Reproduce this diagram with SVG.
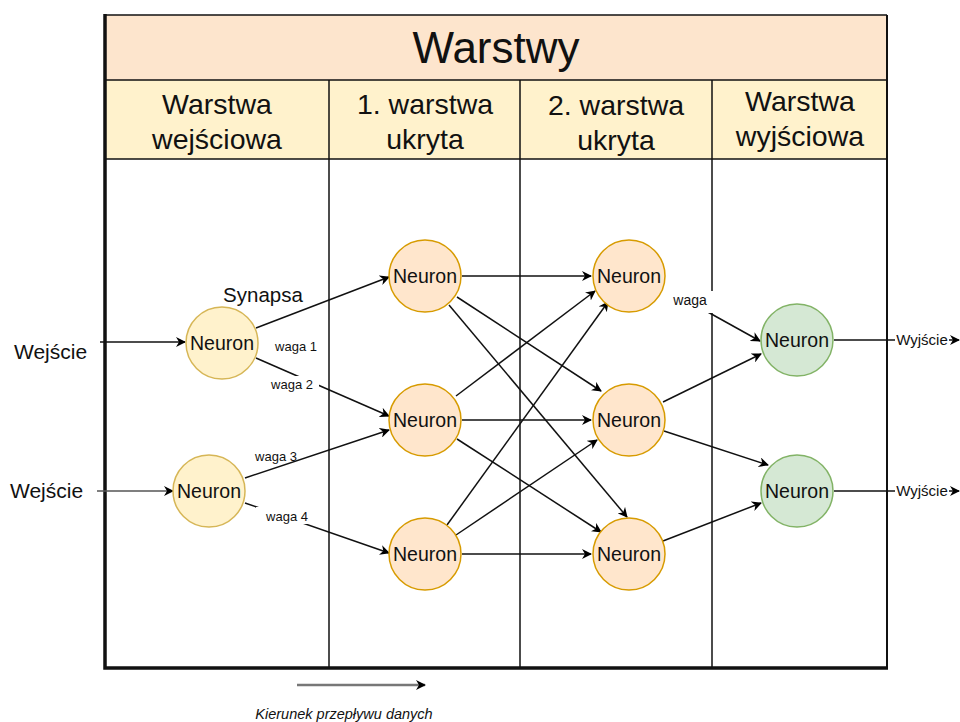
<svg xmlns="http://www.w3.org/2000/svg" width="960" height="722" viewBox="0 0 960 722">
<defs>
<marker id="arr" viewBox="0 0 10 10" refX="9" refY="5" markerWidth="10" markerHeight="10" markerUnits="userSpaceOnUse" orient="auto">
<path d="M0,0 L10,5 L0,10 L3,5 z" fill="#000"/>
</marker>
<style>
text{font-family:"Liberation Sans",Arial,sans-serif;fill:#111}
.title{font-size:44px;text-anchor:middle}
.hdr{font-size:28.5px;text-anchor:middle}
.nt{font-size:19.5px;text-anchor:middle}
.lbl{font-size:13px;text-anchor:middle}
.in{fill:#FFF2CC;stroke:#D6B656;stroke-width:1.5}
.hid{fill:#FFE6CC;stroke:#D79B00;stroke-width:1.5}
.out{fill:#D5E8D4;stroke:#82B366;stroke-width:1.5}
.e{stroke:#111;stroke-width:1.5;fill:none;marker-end:url(#arr)}
.grid{stroke:#111;stroke-width:1.5;fill:none}
</style>
</defs>
<rect width="960" height="722" fill="#fff"/>
<g id="frame">
<rect x="105" y="15" width="782" height="65" fill="#FDE5CD"/>
<rect x="105" y="80" width="782" height="79" fill="#FFF2CC"/>
<line class="grid" x1="105" y1="15" x2="887" y2="15"/>
<line class="grid" x1="105" y1="80" x2="887" y2="80"/>
<line class="grid" x1="105" y1="159" x2="887" y2="159"/>
<line class="grid" x1="329" y1="80" x2="329" y2="668"/>
<line class="grid" x1="520" y1="80" x2="520" y2="668"/>
<line class="grid" x1="712" y1="80" x2="712" y2="668"/>
<line x1="887" y1="15" x2="887" y2="668" stroke="#111" stroke-width="2"/>
<path d="M105,14 V668 H888" stroke="#111" stroke-width="3.5" fill="none"/>
<text class="title" x="496" y="63">Warstwy</text>
<text class="hdr" x="217" y="114">Warstwa</text>
<text class="hdr" x="217" y="149">wejściowa</text>
<text class="hdr" x="425" y="114">1. warstwa</text>
<text class="hdr" x="425" y="149">ukryta</text>
<text class="hdr" x="616" y="115">2. warstwa</text>
<text class="hdr" x="616" y="150">ukryta</text>
<text class="hdr" x="800" y="111">Warstwa</text>
<text class="hdr" x="800" y="146">wyjściowa</text>
</g>
<g id="connectors">
<line class="e" x1="100" y1="342" x2="185" y2="342"/>
<line class="e" x1="97" y1="491" x2="173" y2="491" style="stroke:#555"/>
<line class="e" x1="256" y1="328" x2="389" y2="277"/>
<line class="e" x1="256" y1="358" x2="389" y2="416"/>
<line class="e" x1="245" y1="478" x2="389" y2="430"/>
<line class="e" x1="245" y1="503" x2="389" y2="553"/>
<line class="e" x1="462" y1="276" x2="591" y2="276"/>
<line class="e" x1="457" y1="297" x2="601" y2="391"/>
<line class="e" x1="449" y1="305" x2="627" y2="517"/>
<line class="e" x1="456" y1="396" x2="595" y2="291"/>
<line class="e" x1="462" y1="420" x2="591" y2="420"/>
<line class="e" x1="457" y1="439" x2="601" y2="532"/>
<line class="e" x1="447" y1="525" x2="608" y2="302"/>
<line class="e" x1="456" y1="535" x2="597" y2="440"/>
<line class="e" x1="462" y1="554" x2="591" y2="554"/>
<line class="e" x1="706" y1="311" x2="760" y2="341"/>
<line class="e" x1="663" y1="402" x2="761" y2="354"/>
<line class="e" x1="664" y1="431" x2="768" y2="465"/>
<line class="e" x1="663" y1="541" x2="761" y2="503"/>
<line class="e" x1="834" y1="340" x2="959" y2="340"/>
<line class="e" x1="834" y1="491" x2="959" y2="491"/>
<line class="e" x1="297" y1="685" x2="425" y2="685" style="stroke:#777;stroke-width:2.5"/>
</g>
<g id="labels">
<text x="14" y="359" style="font-size:21px">Wejście</text>
<text x="10" y="498" style="font-size:21px">Wejście</text>
<text x="263" y="302" style="font-size:20.5px;text-anchor:middle">Synapsa</text>
<text class="lbl" x="296" y="351">waga 1</text>
<rect x="266" y="376" width="53" height="16" fill="#fff"/>
<text class="lbl" x="292" y="389">waga 2</text>
<text class="lbl" x="276" y="461">waga 3</text>
<rect x="256" y="507" width="52" height="17" fill="#fff"/>
<text class="lbl" x="287" y="521">waga 4</text>
<rect x="666" y="291" width="50" height="22" fill="#fff"/>
<text x="690" y="305" style="font-size:14px;text-anchor:middle">waga</text>
<rect x="895" y="332" width="54" height="16" fill="#fff"/>
<text x="922" y="345" style="font-size:15px;text-anchor:middle">Wyjście</text>
<rect x="895" y="483" width="54" height="16" fill="#fff"/>
<text x="922" y="496" style="font-size:15px;text-anchor:middle">Wyjście</text>
<text x="344" y="719" style="font-size:14.5px;font-style:italic;text-anchor:middle">Kierunek przepływu danych</text>
</g>
<g id="in1"><circle class="in" cx="222" cy="343" r="36"/><text class="nt" x="222" y="350">Neuron</text></g>
<g id="in2"><circle class="in" cx="209" cy="491" r="36"/><text class="nt" x="209" y="498">Neuron</text></g>
<g id="h1a"><circle class="hid" cx="425" cy="276" r="36"/><text class="nt" x="425" y="283">Neuron</text></g>
<g id="h1b"><circle class="hid" cx="425" cy="420" r="36"/><text class="nt" x="425" y="427">Neuron</text></g>
<g id="h1c"><circle class="hid" cx="425" cy="554" r="36"/><text class="nt" x="425" y="561">Neuron</text></g>
<g id="h2a"><circle class="hid" cx="629" cy="276" r="36"/><text class="nt" x="629" y="283">Neuron</text></g>
<g id="h2b"><circle class="hid" cx="629" cy="420" r="36"/><text class="nt" x="629" y="427">Neuron</text></g>
<g id="h2c"><circle class="hid" cx="629" cy="554" r="36"/><text class="nt" x="629" y="561">Neuron</text></g>
<g id="o1"><circle class="out" cx="797" cy="340" r="36"/><text class="nt" x="797" y="347">Neuron</text></g>
<g id="o2"><circle class="out" cx="797" cy="491" r="36"/><text class="nt" x="797" y="498">Neuron</text></g>
</svg>
